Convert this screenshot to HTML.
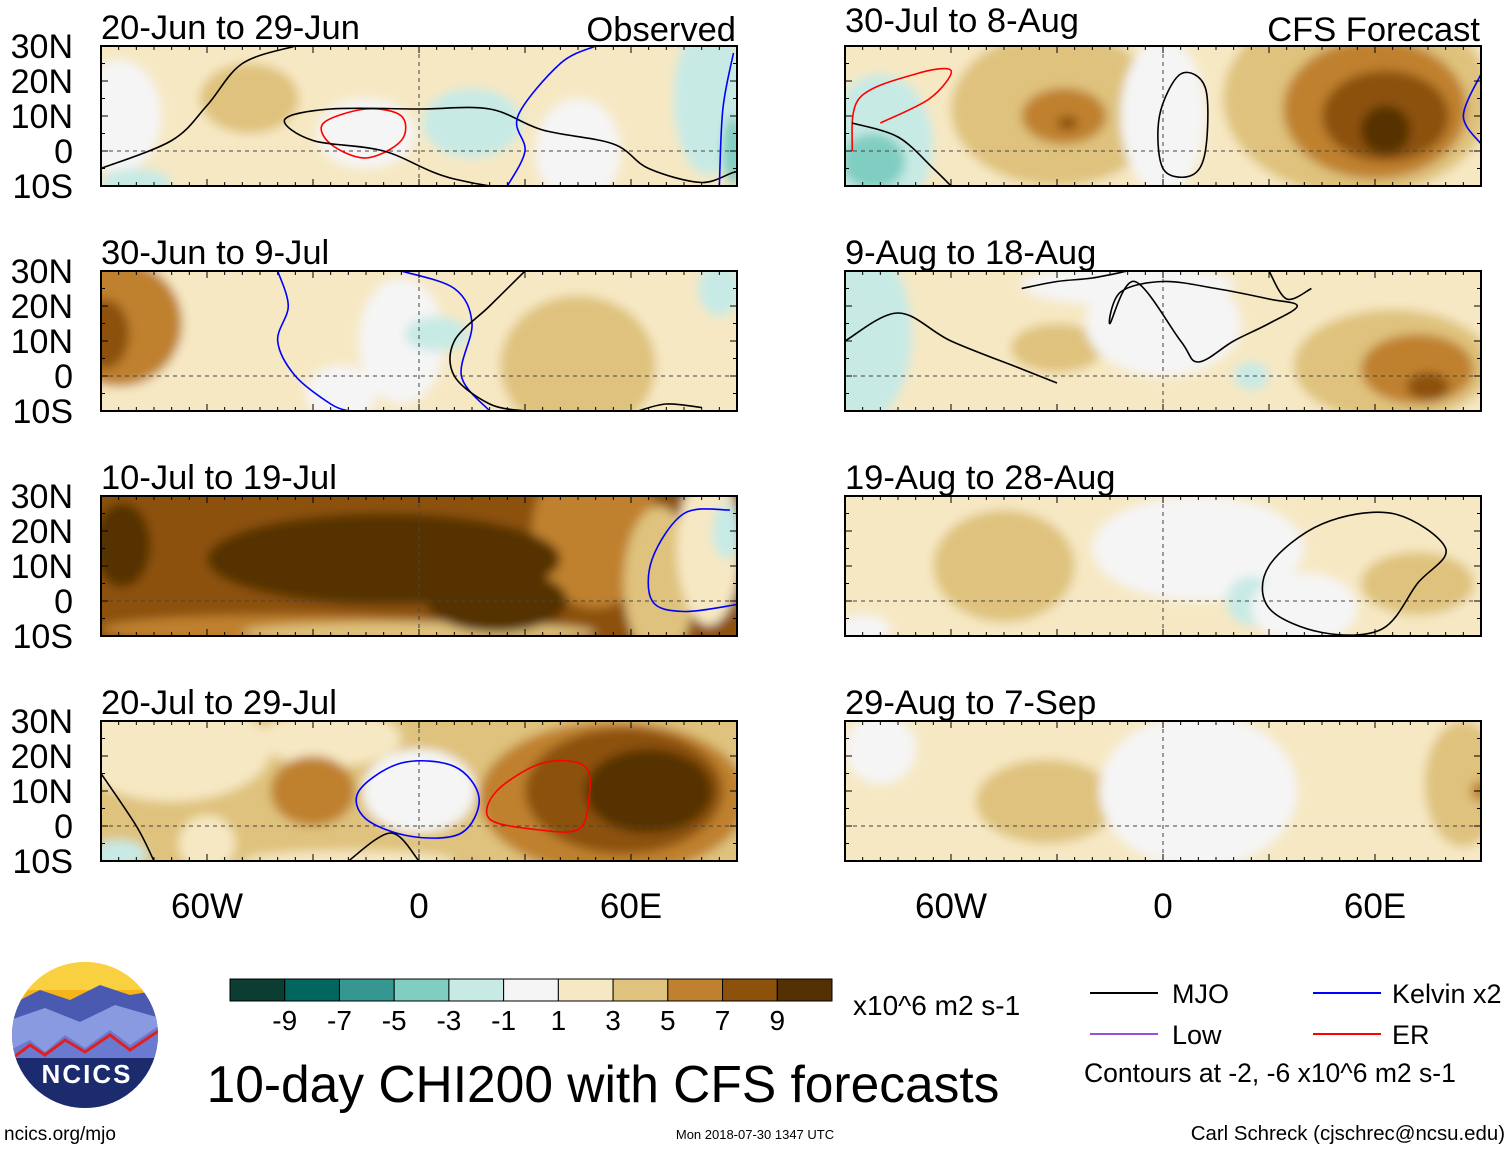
<!DOCTYPE html>
<html><head><meta charset="utf-8">
<style>
body{margin:0;background:#fff;width:1510px;height:1149px;overflow:hidden;font-family:"Liberation Sans",sans-serif}
svg text{font-family:"Liberation Sans",sans-serif}
</style></head>
<body>
<svg id="chart" width="1510" height="1149" viewBox="0 0 1510 1149" xmlns="http://www.w3.org/2000/svg">
<g id="panels"></g>
<g id="logo">
<clipPath id="logoclip"><circle cx="85" cy="1035" r="73"/></clipPath>
<g clip-path="url(#logoclip)">
<rect x="10" y="960" width="150" height="150" fill="#f6b41a"/>
<rect x="10" y="960" width="150" height="30" fill="#f9d040"/>
<path d="M10 1005 L40 990 L70 1000 L100 985 L130 995 L160 990 L160 1110 L10 1110Z" fill="#4a5ab0"/>
<path d="M10 1020 L45 1008 L80 1022 L115 1005 L160 1018 L160 1110 L10 1110Z" fill="#8a9ae0"/>
<path d="M10 1050 L30 1040 L45 1052 L65 1035 L85 1048 L110 1030 L130 1045 L160 1025 L160 1110 L10 1110Z" fill="#6a7ad0"/>
<path d="M10 1060 L30 1045 L45 1055 L65 1040 L85 1052 L110 1035 L130 1050 L160 1030" fill="none" stroke="#e02020" stroke-width="3"/>
<rect x="10" y="1058" width="150" height="60" fill="#1c2a6e"/>
</g>
<text x="87" y="1083" text-anchor="middle" font-size="26" font-weight="bold" fill="#fff" letter-spacing="2">NCICS</text>
</g>
<g id="colorbar"></g>
<text x="853" y="1015" font-size="28">x10^6 m2 s-1</text>
<text x="603" y="1102" text-anchor="middle" font-size="51.5">10-day CHI200 with CFS forecasts</text>
<g>
<line x1="1090" y1="993" x2="1158" y2="993" stroke="#000" stroke-width="2"/>
<text x="1172" y="1003" font-size="27">MJO</text>
<line x1="1313" y1="993" x2="1381" y2="993" stroke="#0000ff" stroke-width="2"/>
<text x="1392" y="1003" font-size="27">Kelvin x2</text>
<line x1="1090" y1="1034" x2="1158" y2="1034" stroke="#9b4de0" stroke-width="2"/>
<text x="1172" y="1044" font-size="27">Low</text>
<line x1="1313" y1="1034" x2="1381" y2="1034" stroke="#ff0000" stroke-width="2"/>
<text x="1392" y="1044" font-size="27">ER</text>
<text x="1084" y="1082" font-size="26.5">Contours at -2, -6 x10^6 m2 s-1</text>
</g>
<text x="4" y="1140" font-size="19">ncics.org/mjo</text>
<text x="755" y="1139" text-anchor="middle" font-size="13">Mon 2018-07-30 1347 UTC</text>
<text x="1505" y="1140" text-anchor="end" font-size="20.4">Carl Schreck (cjschrec@ncsu.edu)</text>
</svg>
<script>
const levelColors={t9:"#0b3d33",t7:"#01665e",t5:"#35978f",t3:"#80cdc1",t1:"#c7eae5",w:"#f5f5f5",b1:"#f6e8c3",b3:"#dfc27d",b5:"#bf812d",b7:"#8c510a",b9:"#543005"};
const cbLevels=["t9","t7","t5","t3","t1","w","b1","b3","b5","b7","b9"];
const cbTicks=["-9","-7","-5","-3","-1","1","3","5","7","9"];
const panelTitles=["20-Jun to 29-Jun","30-Jun to 9-Jul","10-Jul to 19-Jul","20-Jul to 29-Jul","30-Jul to 8-Aug","9-Aug to 18-Aug","19-Aug to 28-Aug","29-Aug to 7-Sep"];
const panelBase=["b1","b1","b7","b3","b1","b1","b1","b1"];
// blobs: [lon, lat, rlon, rlat, level]
const panelBlobs=[
[[-85,10,12,16,"w"],[-15,5,14,10,"w"],[15,8,14,10,"t1"],[45,0,12,15,"w"],[82,15,10,22,"t1"],[-48,15,14,10,"b3"],[89,0,3,10,"t3"],[-80,-9,10,4,"t1"]],
[[-85,15,18,18,"b5"],[-89,12,7,10,"b7"],[-5,10,12,18,"w"],[5,12,9,5,"t1"],[45,3,22,20,"b3"],[-22,-5,10,8,"w"],[85,25,6,8,"t1"]],
[[50,20,18,22,"b5"],[68,5,10,22,"b3"],[82,15,9,22,"b1"],[-40,-8,50,4,"b5"],[0,-9,50,3,"b3"],[-10,12,50,13,"b9"],[22,0,20,9,"b9"],[-84,16,8,12,"b9"],[87,20,4,8,"t1"]],
[[-70,22,28,15,"b1"],[-25,25,20,8,"b1"],[-30,10,12,10,"b5"],[0,10,16,12,"w"],[-60,-5,8,8,"b1"],[55,8,38,22,"b5"],[58,10,28,18,"b7"],[65,10,18,12,"b9"],[-85,-8,8,4,"t1"],[-20,-10,30,3,"b1"]],
[[-30,12,30,22,"b3"],[-28,10,12,8,"b5"],[-27,8,3,2,"b7"],[55,15,38,28,"b3"],[60,12,26,20,"b5"],[63,10,18,13,"b7"],[63,6,7,7,"b9"],[0,10,12,22,"w"],[-80,2,15,20,"t1"],[-82,-3,9,8,"t3"]],
[[-85,12,14,25,"t1"],[-30,8,13,7,"b3"],[0,15,22,15,"w"],[-10,26,30,6,"w"],[65,3,28,16,"b3"],[72,2,16,10,"b5"],[75,-3,6,4,"b7"],[25,0,5,4,"t1"]],
[[-45,10,20,16,"b3"],[10,15,30,15,"w"],[25,0,7,7,"t1"],[40,-2,15,10,"w"],[72,5,16,9,"b3"],[-85,-8,8,4,"w"]],
[[-33,7,20,12,"b3"],[10,10,28,22,"w"],[-80,22,10,10,"w"],[85,12,11,18,"b3"],[90,10,3,3,"b5"]]
];
// contours: [color, closed, lon/lat pairs]
const panelContours=[
[["#ff0000",1,[[-15,12],[-5,10],[-5,3],[-15,-2],[-25,2],[-27,8]]],["#000",1,[[-38,9],[-25,12],[0,12],[20,12],[35,6],[55,2],[65,-5],[80,-9],[90,-6],[88,-12],[40,-12],[10,-8],[-10,0],[-30,3]]],["#000",0,[[-90,-5],[-70,3],[-60,13],[-50,25],[-35,30]]],["#0000ff",0,[[25,-10],[30,0],[28,10],[40,25],[50,30]]],["#0000ff",0,[[89,28],[86,12],[85,-10]]]],
[["#0000ff",0,[[-40,30],[-37,20],[-40,10],[-35,0],[-25,-8],[-20,-10]]],["#0000ff",0,[[-5,30],[10,25],[15,15],[12,0],[20,-10]]],["#000",0,[[30,30],[20,20],[10,10],[10,0],[20,-8],[30,-10]]],["#000",0,[[62,-10],[70,-8],[80,-9]]]],
[["#0000ff",0,[[88,26],[75,25],[66,12],[66,0],[75,-3],[90,-1]]]],
[["#0000ff",1,[[-5,18],[10,17],[17,8],[12,-2],[-2,-3],[-15,2],[-17,10]]],["#ff0000",1,[[35,18],[47,17],[48,7],[45,-1],[33,-1],[20,2],[22,10]]],["#000",0,[[-90,15],[-80,0],[-75,-10]]],["#000",0,[[-20,-10],[-8,-2],[0,-10]]]],
[["#ff0000",0,[[-88,0],[-86,15],[-70,22],[-60,23],[-66,15],[-80,8]]],["#000",0,[[-88,8],[-75,4],[-65,-5],[-60,-10]]],["#000",1,[[5,22],[12,18],[12,0],[8,-7],[0,-5],[-1,10]]],["#0000ff",0,[[90,22],[85,10],[90,2]]]],
[["#000",0,[[-90,10],[-75,18],[-60,10],[-40,2],[-30,-2]]],["#000",0,[[-40,25],[-30,27],[-20,28],[-10,30]]],["#000",1,[[-15,15],[-12,24],[0,27],[15,25],[30,22],[38,20],[30,15],[20,10],[10,4],[5,10],[-8,27]]],["#000",0,[[30,30],[35,22],[42,25]]]],
[["#000",1,[[30,10],[45,22],[65,25],[80,15],[72,5],[62,-8],[45,-9],[30,-2]]]],
[]
];
const xTickLon=[-60,0,60], xTickLab=["60W","0","60E"];
const yTickLat=[30,20,10,0,-10], yTickLab=["30N","20N","10N","0","10S"];

const NS="http://www.w3.org/2000/svg";
function mk(t,a,p){const e=document.createElementNS(NS,t);for(const k in a)e.setAttribute(k,a[k]);if(p)p.appendChild(e);return e;}
const svgRoot=document.getElementById('chart');
const defs=mk('defs',{},svgRoot);
const f=mk('filter',{id:'soft',x:'-10%',y:'-10%',width:'120%',height:'120%'},defs);mk('feGaussianBlur',{stdDeviation:5},f);
const panelsG=document.getElementById('panels');
const colX=[101,845], rowY=[46,271,496,721], PW=636, PH=140;
function smooth(pts,closed){
 const n=pts.length; if(n<2)return "";
 const P=i=>closed?pts[(i+n)%n]:pts[Math.max(0,Math.min(n-1,i))];
 let d="M"+pts[0][0]+" "+pts[0][1];
 const m=closed?n:n-1;
 for(let i=0;i<m;i++){const p0=P(i-1),p1=P(i),p2=P(i+1),p3=P(i+2);
  d+=" C"+(p1[0]+(p2[0]-p0[0])/6)+" "+(p1[1]+(p2[1]-p0[1])/6)+" "+(p2[0]-(p3[0]-p1[0])/6)+" "+(p2[1]-(p3[1]-p1[1])/6)+" "+p2[0]+" "+p2[1];}
 return d+(closed?"Z":"");
}
for(let i=0;i<8;i++){
 const x0=colX[i<4?0:1], y0=rowY[i%4];
 const lx=lon=>x0+(lon+90)*PW/180, ly=lat=>y0+(30-lat)*PH/40;
 const g=mk('g',{},panelsG);
 
 
 const cp=mk('clipPath',{id:'cp'+i},g); mk('rect',{x:x0,y:y0,width:PW,height:PH},cp);
 const inner=mk('g',{'clip-path':'url(#cp'+i+')'},g);
 mk('rect',{x:x0,y:y0,width:PW,height:PH,fill:levelColors[panelBase[i]]},inner);
 const bg=mk('g',{filter:'url(#soft)'},inner);
 mk('rect',{x:x0-20,y:y0-20,width:PW+40,height:PH+40,fill:levelColors[panelBase[i]]},bg);
 panelBlobs[i].forEach(b=>{const e=mk('ellipse',{cx:lx(b[0]),cy:ly(b[1]),rx:b[2]*PW/180,ry:b[3]*PH/40,fill:levelColors[b[4]]},bg);
  });
 mk('line',{x1:x0,x2:x0+PW,y1:ly(0),y2:ly(0),stroke:'#444','stroke-dasharray':'4 4','stroke-width':1},inner);
 mk('line',{x1:lx(0),x2:lx(0),y1:y0,y2:y0+PH,stroke:'#444','stroke-dasharray':'4 4','stroke-width':1},inner);
 panelContours[i].forEach(c=>{const pts=c[2].map(p=>[lx(p[0]),ly(p[1])]);
  const e=mk('path',{d:smooth(pts,c[1]),fill:'none',stroke:c[0],'stroke-width':1.6},inner);
  });
 mk('rect',{x:x0,y:y0,width:PW,height:PH,fill:'none',stroke:'#000','stroke-width':2},g);
 for(let lon=-90;lon<=90;lon+=5){const t=lon%30==0?7:4;
  mk('line',{x1:lx(lon),x2:lx(lon),y1:y0,y2:y0+t,stroke:'#000'},g);mk('line',{x1:lx(lon),x2:lx(lon),y1:y0+PH,y2:y0+PH-t,stroke:'#000'},g);}
 for(let lat=-10;lat<=30;lat+=5){const t=lat%10==0?7:4;
  mk('line',{x1:x0,x2:x0+t,y1:ly(lat),y2:ly(lat),stroke:'#000'},g);mk('line',{x1:x0+PW,x2:x0+PW-t,y1:ly(lat),y2:ly(lat),stroke:'#000'},g);}
 const tt=mk('text',{x:x0,y:y0-(i==4?14:7),'font-size':34.5},g);tt.textContent=panelTitles[i];
 
 if(i==0||i==4){const s=mk('text',{x:x0+PW-1,y:y0-5,'font-size':34.5,'text-anchor':'end'},g);s.textContent=i==0?"Observed":"CFS Forecast";
  }
 if(i<4){yTickLat.forEach((lat,k)=>{const t=mk('text',{x:73,y:ly(lat)+12,'font-size':34,'text-anchor':'end'},g);t.textContent=yTickLab[k];
  });}
 if(i%4==3){xTickLon.forEach((lon,k)=>{const t=mk('text',{x:lx(lon),y:918,'font-size':35,'text-anchor':'middle'},g);t.textContent=xTickLab[k];
  });}
}
const cb=document.getElementById('colorbar');
const cw=602/cbLevels.length;
cbLevels.forEach((l,k)=>{const r=mk('rect',{x:230+k*cw,y:979,width:cw,height:22,fill:levelColors[l],stroke:'#000','stroke-width':1},cb);
 });
cbTicks.forEach((t,k)=>{const e=mk('text',{x:230+(k+1)*cw,y:1030,'font-size':28,'text-anchor':'middle'},cb);e.textContent=t;
 });
</script>
</body></html>
